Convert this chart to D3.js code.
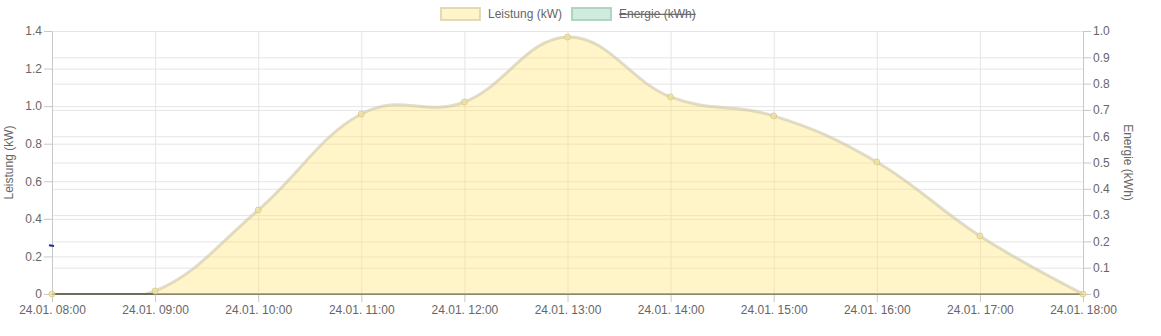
<!DOCTYPE html>
<html>
<head>
    <style>
        body { margin: 0; background: #fff; }
        svg text { font-family: "Liberation Sans", Arial, sans-serif; font-size: 12px; fill: #666; }
        .grid line { stroke: #e5e5e5; }
        .grid path { display: none; }
    </style>
    <script src="https://d3js.org/d3.v7.min.js"></script>
</head>
<body>
    <svg width="1161" height="336"></svg>
    <script>
        // data
        var hours = ["08:00", "09:00", "10:00", "11:00", "12:00", "13:00", "14:00", "15:00", "16:00", "17:00", "18:00"];
        var leistung = [0, 0.016, 0.447, 0.958, 1.022, 1.368, 1.049, 0.948, 0.703, 0.309, 0];
        var leftTicks = [0, 0.2, 0.4, 0.6, 0.8, 1.0, 1.2, 1.4];
        var rightTicks = [0, 0.1, 0.2, 0.3, 0.4, 0.5, 0.6, 0.7, 0.8, 0.9, 1.0];
        var datePrefix = "24.01. ";

        var svg = d3.select("svg"),
            plotLeft = 52, plotRight = 1083, plotTop = 31, plotBottom = 294;

        var x = d3.scalePoint().domain(hours).range([plotLeft, plotRight]);
        var yL = d3.scaleLinear().domain([0, 1.4]).range([plotBottom, plotTop]);
        var yR = d3.scaleLinear().domain([0, 1.0]).range([plotBottom, plotTop]);

        var fmt = function(d) { return d === 0 ? "0" : d3.format(".1f")(d); };

        // gridlines
        svg.append("g").attr("class", "grid")
           .attr("transform", "translate(" + plotLeft + ",0)")
           .call(d3.axisLeft(yL).tickValues(leftTicks).tickSize(-(plotRight - plotLeft)).tickFormat(""));
        svg.append("g").attr("class", "grid")
           .attr("transform", "translate(" + plotRight + ",0)")
           .call(d3.axisRight(yR).tickValues(rightTicks).tickSize(-(plotRight - plotLeft)).tickFormat(""));
        svg.append("g").attr("class", "grid")
           .attr("transform", "translate(0," + plotBottom + ")")
           .call(d3.axisBottom(x).tickSize(-(plotBottom - plotTop)).tickFormat(""));

        // axes
        function styleAxis(g) {
            g.select(".domain").attr("stroke", "#c8c8c8");
            g.selectAll(".tick line").attr("stroke", "#c8c8c8");
            g.selectAll(".tick text").attr("fill", "#666").style("font-size", "12px");
        }
        svg.append("g").attr("transform", "translate(" + plotLeft + ",0)")
           .call(d3.axisLeft(yL).tickValues(leftTicks).tickSize(8).tickPadding(2).tickSizeOuter(0).tickFormat(fmt))
           .call(styleAxis);
        svg.append("g").attr("transform", "translate(" + plotRight + ",0)")
           .call(d3.axisRight(yR).tickValues(rightTicks).tickSize(8).tickPadding(2).tickSizeOuter(0).tickFormat(fmt))
           .call(styleAxis);
        svg.append("g").attr("transform", "translate(0," + plotBottom + ")")
           .call(d3.axisBottom(x).tickSize(8).tickPadding(3).tickSizeOuter(0).tickFormat(function(d) { return datePrefix + d; }))
           .call(styleAxis)
           .select(".domain").remove();

        svg.append("line").attr("x1", plotLeft).attr("x2", plotRight).attr("y1", plotBottom).attr("y2", plotBottom)
           .attr("stroke", "#8a8670").attr("stroke-width", 2);

        // area + line
        svg.append("clipPath").attr("id", "plot")
           .append("rect").attr("x", plotLeft).attr("y", plotTop - 5)
           .attr("width", plotRight - plotLeft).attr("height", plotBottom - plotTop + 5);

        var curve = d3.curveCardinal.tension(-0.2);
        var area = d3.area()
            .x(function(d, i) { return x(hours[i]); })
            .y0(plotBottom)
            .y1(function(d) { return yL(d); })
            .curve(curve);
        var line = d3.line()
            .x(function(d, i) { return x(hours[i]); })
            .y(function(d) { return yL(d); })
            .curve(curve);

        var plot = svg.append("g").attr("clip-path", "url(#plot)");
        plot.append("path").datum(leistung).attr("d", area).attr("fill", "rgba(255,228,110,0.38)");
        plot.append("path").datum(leistung).attr("d", line)
            .attr("fill", "none").attr("stroke", "rgba(205,198,170,0.6)").attr("stroke-width", 3);

        svg.append("line").attr("x1", plotLeft).attr("x2", x("09:00")).attr("y1", plotBottom).attr("y2", plotBottom)
           .attr("stroke", "#6f6d5a").attr("stroke-width", 2);

        svg.selectAll(".pt").data(leistung).enter().append("circle")
           .attr("class", "pt")
           .attr("cx", function(d, i) { return x(hours[i]); })
           .attr("cy", function(d) { return yL(d); })
           .attr("r", 3)
           .attr("fill", "rgba(245,225,140,0.7)")
           .attr("stroke", "rgba(210,200,150,0.8)")
           .attr("stroke-width", 1);

        // axis titles
        svg.append("text").attr("transform", "translate(13," + ((plotTop + plotBottom) / 2) + ") rotate(-90)")
           .attr("text-anchor", "middle").text("Leistung (kW)");
        svg.append("text").attr("transform", "translate(1124," + ((plotTop + plotBottom) / 2) + ") rotate(90)")
           .attr("text-anchor", "middle").text("Energie (kWh)");

        // legend
        var legend = svg.append("g");
        legend.append("rect").attr("x", 441).attr("y", 8).attr("width", 39).attr("height", 12)
              .attr("fill", "rgba(255,228,110,0.38)").attr("stroke", "rgba(220,210,170,0.8)").attr("stroke-width", 2);
        legend.append("text").attr("x", 488).attr("y", 18).text("Leistung (kW)");
        legend.append("rect").attr("x", 572).attr("y", 8).attr("width", 39).attr("height", 12)
              .attr("fill", "rgba(120,200,160,0.35)").attr("stroke", "rgba(170,210,190,0.9)").attr("stroke-width", 2);
        legend.append("text").attr("x", 619).attr("y", 18).attr("text-decoration", "line-through").text("Energie (kWh)");

        // small blue mark at left axis
        svg.append("line").attr("x1", 49).attr("x2", 54).attr("y1", yL(0.26)).attr("y2", yL(0.255))
           .attr("stroke", "#1a2a9a").attr("stroke-width", 2);
    </script>
</body>
</html>
